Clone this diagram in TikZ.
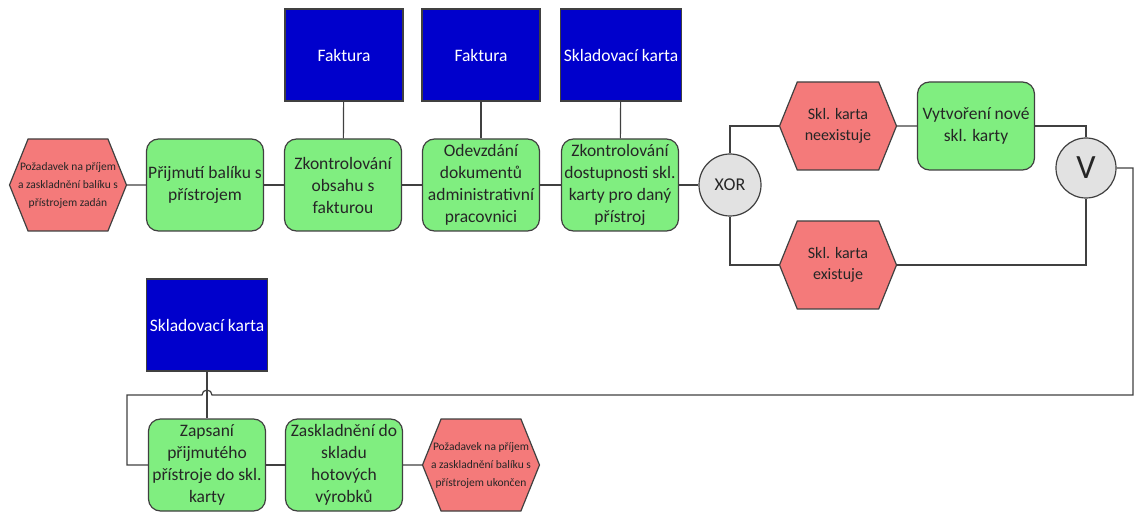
\documentclass[tikz,border=0pt]{standalone}
\usepackage{fontspec}
\setmainfont{Carlito}
\usetikzlibrary{shapes.symbols}
\definecolor{evred}{HTML}{F47A7A}
\definecolor{fngreen}{HTML}{80EE80}
\definecolor{docblue}{HTML}{0000CC}
\definecolor{gategray}{HTML}{E2E2E2}
\definecolor{linegray}{HTML}{404040}
\begin{document}
\begin{tikzpicture}[x=1pt, y=-1pt, line width=1.2pt,
  event/.style={signal, signal to=west and east, signal pointer angle=136, draw=linegray, fill=evred,
    minimum width=117pt, minimum height=92pt, inner sep=0pt, align=center, text=black!85,
    font=\fontsize{16}{21}\selectfont},
  smallevent/.style={event, inner xsep=-16pt, font=\fontsize{11.5}{18}\selectfont},
  func/.style={rectangle, rounded corners=12pt, draw=linegray, fill=fngreen, minimum width=117pt,
    minimum height=92pt, inner sep=1pt, align=center, text=black!85, font=\fontsize{17.5}{22}\selectfont},
  doc/.style={rectangle, draw=linegray, fill=docblue, text=white, minimum width=118pt,
    minimum height=92pt, font=\fontsize{17.5}{20}\selectfont},
  gate/.style={circle, draw=linegray, fill=gategray, minimum size=62pt, inner sep=0pt, text=black!85},
  conn/.style={draw=linegray, line width=1.2pt}]

\useasboundingbox (0,0) rectangle (1136,513);

% top row
\node[smallevent] (start) at (68,185) {Požadavek na příjem\\a zaskladnění balíku s\\přístrojem zadán};
\node[func] (prij) at (205,185) {Přijmutí balíku s\\přístrojem};
\node[func] (zk1) at (343,185) {Zkontrolování\\obsahu s\\fakturou};
\node[func] (odev) at (481,185) {Odevzdání\\dokumentů\\administrativní\\pracovnici};
\node[func] (zk2) at (620,185) {Zkontrolování\\dostupnosti skl.\\karty pro daný\\přístroj};

\node[doc] (fak1) at (344,55) {Faktura};
\node[doc] (fak2) at (481,55) {Faktura};
\node[doc] (skl1) at (621,55) {Skladovací karta};

% branches
\node[gate, font=\fontsize{18}{20}\selectfont] (xor) at (730,185) {XOR};
\node[event, minimum height=88pt] (neex) at (838,126) {Skl. karta\\neexistuje};
\node[func, minimum height=88pt] (vytv) at (976,126) {Vytvoření nové\\skl. karty};
\node[event, minimum height=88pt] (ex) at (838,265) {Skl. karta\\existuje};
\node[gate, minimum size=60pt, font=\fontsize{34}{34}\selectfont] (vgate) at (1086,168) {V};

% bottom row
\node[doc] (skl2) at (207,325) {Skladovací karta};
\node[func] (zaps) at (207,465) {Zapsaní\\přijmutého\\přístroje do skl.\\karty};
\node[func] (zask) at (344,465) {Zaskladnění do\\skladu\\hotových\\výrobků};
\node[smallevent] (endev) at (481,465) {Požadavek na příjem\\a zaskladnění balíku s\\přístrojem ukončen};

\coordinate (rtop) at (1133,168);
\coordinate (rbot) at (1133,395);
\coordinate (lbot) at (127,395);
\coordinate (lzap) at (127,465);

\foreach \a/\b in {start/prij, prij/zk1, zk1/odev, odev/zk2, zk2/xor, neex/vytv, zaps/zask, zask/endev}
    \draw[conn] (\a) -- (\b);
\foreach \d/\f in {fak1/zk1, fak2/odev, skl1/zk2, skl2/zaps}
    \draw[conn] (\d) -- (\f);

\draw[conn] (xor.north) |- (neex.west);
\draw[conn] (xor.south) |- (ex.west);
\draw[conn] (vytv.east) -| (vgate.north);
\draw[conn] (ex.east) -| (vgate.south);
\draw[conn] (vgate.east) -- (rtop) -- (rbot) -- ([xshift=5pt]skl2.south |- rbot)
    arc[start angle=0, end angle=-180, radius=5] -- (lbot) -- (lzap) -- (zaps.west);
\end{tikzpicture}
\end{document}
